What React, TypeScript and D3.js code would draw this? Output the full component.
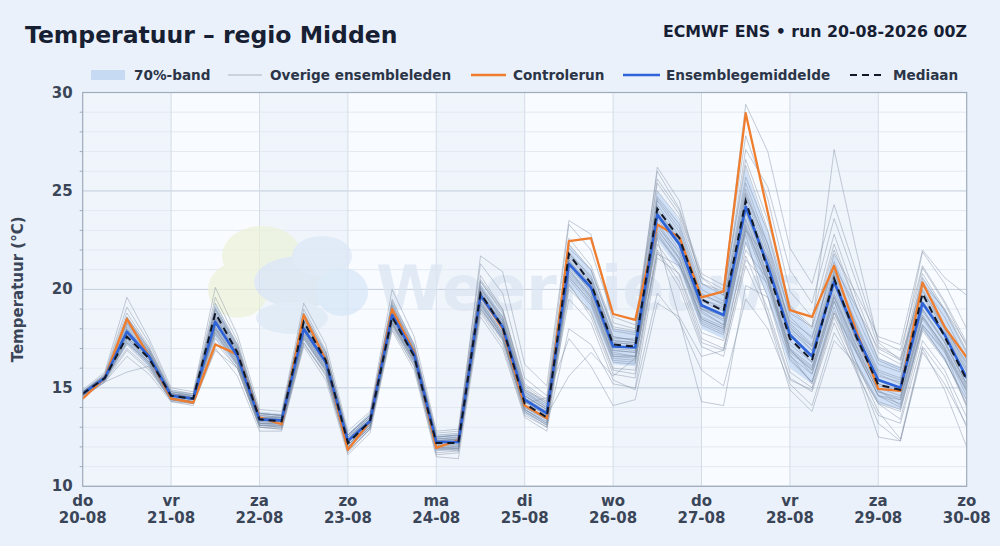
import React, { useEffect, useRef } from "react";
import * as d3 from "d3";

// 6-hourly steps, 41 points from do 20-08 00Z to zo 30-08 00Z
const dayNames = ["do", "vr", "za", "zo", "ma", "di", "wo", "do", "vr", "za", "zo"];
const dayDates = ["20-08", "21-08", "22-08", "23-08", "24-08", "25-08", "26-08", "27-08", "28-08", "29-08", "30-08"];
const yTicks = [10, 15, 20, 25, 30];

const meanT = [14.7, 15.5, 17.85, 16.6, 14.6, 14.45, 18.35, 16.6, 13.4, 13.35, 18.0, 16.3, 12.3, 13.3, 18.7, 16.7, 12.25, 12.25, 19.7, 18.1, 14.4, 13.7, 21.3, 20.1, 17.1, 17.05, 23.8, 22.3, 19.2, 18.7, 24.2, 21.2, 17.7, 16.6, 20.4, 17.7, 15.4, 15.0, 19.3, 17.7, 15.5];
const medianT = [14.7, 15.5, 17.6, 16.5, 14.6, 14.45, 18.8, 16.8, 13.4, 13.3, 18.35, 16.4, 12.2, 13.3, 18.6, 16.6, 12.2, 12.2, 19.8, 18.1, 14.2, 13.5, 21.8, 20.3, 17.2, 17.1, 24.1, 22.6, 19.5, 18.9, 24.5, 21.0, 17.5, 16.4, 20.55, 17.6, 15.15, 14.9, 19.8, 17.6, 15.4];
const controlT = [14.45, 15.5, 18.5, 16.6, 14.45, 14.25, 17.2, 16.7, 13.5, 13.15, 18.7, 16.4, 11.85, 13.3, 19.0, 16.8, 11.95, 12.35, 19.7, 18.0, 14.1, 13.45, 22.45, 22.6, 18.75, 18.45, 23.3, 22.65, 19.6, 19.9, 28.95, 23.9, 18.95, 18.6, 21.2, 17.9, 14.95, 14.85, 20.35, 18.1, 16.55];
const bandLo = [14.5, 15.3, 17.2, 16.1, 14.3, 14.2, 17.5, 16.1, 13.1, 13.0, 17.4, 15.8, 11.9, 12.9, 18.2, 16.2, 11.8, 11.9, 19.0, 17.4, 13.7, 13.1, 20.2, 18.9, 16.2, 16.1, 22.5, 21.0, 18.0, 17.5, 22.3, 19.6, 16.0, 15.2, 19.0, 16.2, 14.2, 13.9, 18.0, 16.4, 14.3];
const bandHi = [14.9, 15.7, 18.6, 17.0, 14.9, 14.7, 19.3, 17.2, 13.8, 13.7, 18.7, 16.8, 12.7, 13.7, 19.3, 17.2, 12.6, 12.7, 20.3, 18.7, 14.9, 14.2, 22.3, 21.0, 18.0, 17.9, 25.0, 23.5, 20.3, 19.8, 26.2, 22.8, 19.2, 17.9, 21.8, 19.1, 16.5, 16.1, 20.6, 19.0, 16.8];

const members = [
  [14.8, 15.6, 18.4, 16.9, 14.7, 14.5, 18.9, 17.0, 13.6, 13.5, 18.4, 16.5, 12.5, 13.5, 19.0, 16.9, 12.4, 12.5, 20.1, 18.5, 14.8, 14.1, 21.9, 20.6, 17.6, 17.4, 24.5, 22.9, 19.7, 19.3, 25.1, 22.0, 18.3, 17.2, 21.0, 18.3, 15.9, 15.5, 19.9, 18.2, 16.0],
  [14.6, 15.4, 17.3, 16.3, 14.4, 14.3, 17.8, 16.2, 13.1, 13.1, 17.5, 15.9, 12.0, 13.0, 18.2, 16.3, 11.9, 11.9, 19.1, 17.5, 13.9, 13.2, 20.5, 19.2, 16.3, 16.2, 22.7, 21.3, 18.3, 17.8, 23.0, 20.1, 16.6, 15.7, 19.4, 16.8, 14.6, 14.2, 18.5, 16.9, 14.6],
  [14.7, 15.5, 18.1, 16.7, 14.6, 14.4, 18.5, 16.8, 13.4, 13.3, 18.2, 16.4, 12.3, 13.4, 18.9, 16.8, 12.3, 12.4, 20.0, 18.6, 14.9, 14.3, 22.6, 21.2, 18.1, 17.9, 25.0, 23.6, 20.3, 19.9, 26.3, 23.0, 19.1, 18.0, 22.0, 19.2, 16.5, 16.0, 20.6, 18.9, 16.8],
  [14.6, 15.5, 17.6, 16.4, 14.5, 14.4, 18.1, 16.4, 13.2, 13.2, 17.7, 16.0, 12.1, 13.1, 18.4, 16.5, 12.0, 12.0, 19.3, 17.6, 13.8, 13.1, 20.2, 18.8, 15.9, 15.7, 22.3, 20.7, 17.5, 17.0, 22.4, 19.6, 15.8, 15.0, 18.8, 16.3, 14.3, 13.9, 18.0, 16.5, 14.2],
  [14.8, 15.7, 19.1, 17.3, 14.9, 14.7, 19.6, 17.4, 13.7, 13.6, 19.0, 16.9, 12.6, 13.6, 19.5, 17.2, 12.6, 12.7, 20.7, 19.0, 15.0, 14.2, 21.5, 19.8, 16.8, 16.6, 23.4, 21.8, 18.8, 18.2, 23.6, 20.7, 17.2, 16.3, 20.9, 18.1, 15.6, 15.3, 19.0, 17.3, 15.2],
  [14.7, 15.4, 17.0, 16.0, 14.4, 14.2, 17.3, 16.0, 13.0, 12.9, 17.3, 15.7, 11.8, 12.9, 18.0, 16.1, 11.6, 11.7, 18.8, 17.2, 13.6, 13.0, 18.0, 17.2, 15.2, 15.0, 21.6, 20.8, 17.8, 17.4, 22.0, 20.5, 17.0, 16.1, 19.8, 17.2, 15.0, 14.6, 18.7, 17.0, 14.8],
  [14.9, 15.8, 19.6, 17.5, 15.0, 14.8, 20.1, 17.7, 13.9, 13.8, 19.3, 17.2, 12.8, 13.8, 20.0, 17.6, 12.8, 12.9, 21.3, 19.8, 15.5, 14.6, 23.3, 22.0, 18.6, 18.2, 26.0, 24.1, 20.8, 20.2, 27.8, 24.6, 19.9, 18.6, 22.8, 19.6, 16.8, 16.2, 21.1, 19.3, 17.1],
  [14.6, 15.3, 16.6, 15.7, 14.3, 14.1, 17.0, 15.6, 12.8, 12.8, 17.1, 15.4, 11.6, 12.7, 17.9, 15.9, 11.5, 11.4, 18.6, 17.0, 13.5, 12.8, 20.0, 18.9, 16.0, 15.9, 22.0, 20.4, 17.3, 16.9, 21.7, 19.0, 15.5, 14.8, 18.3, 15.8, 13.6, 13.2, 17.4, 15.9, 13.5],
  [14.7, 15.5, 17.9, 16.6, 14.6, 14.4, 18.4, 16.7, 13.4, 13.3, 18.0, 16.3, 12.3, 13.3, 18.8, 16.7, 12.3, 12.2, 19.6, 18.1, 14.3, 13.8, 21.0, 19.7, 16.9, 16.8, 23.2, 21.9, 19.0, 18.4, 24.8, 22.3, 18.8, 18.1, 27.1, 22.0, 17.3, 16.4, 20.0, 18.0, 16.3],
  [14.6, 15.5, 17.5, 16.3, 14.5, 14.3, 18.0, 16.3, 13.2, 13.2, 17.8, 16.1, 12.1, 13.2, 18.6, 16.5, 12.1, 12.0, 19.4, 17.8, 14.0, 13.4, 19.5, 18.3, 15.4, 14.9, 19.8, 18.4, 15.9, 15.1, 19.5, 18.0, 15.2, 14.1, 17.8, 16.0, 13.2, 12.3, 17.0, 14.9, 12.0],
  [14.8, 15.6, 18.3, 16.8, 14.7, 14.6, 18.7, 16.9, 13.5, 13.5, 18.5, 16.6, 12.4, 13.5, 19.2, 17.0, 12.5, 12.6, 21.7, 20.9, 16.2, 15.1, 23.5, 22.8, 18.3, 18.0, 25.4, 23.8, 20.6, 19.7, 27.1, 25.2, 21.0, 19.3, 23.6, 20.4, 17.1, 16.5, 21.9, 20.3, 18.0],
  [14.7, 15.6, 17.7, 16.5, 14.7, 14.5, 18.2, 16.6, 13.5, 13.4, 17.9, 16.2, 12.4, 13.4, 18.5, 16.6, 12.3, 12.3, 19.8, 18.3, 14.6, 13.9, 21.1, 20.0, 17.3, 17.2, 24.1, 22.4, 19.0, 18.5, 24.7, 21.5, 17.9, 16.9, 20.3, 17.4, 15.1, 14.8, 19.4, 17.9, 15.8],
  [14.6, 15.4, 17.4, 16.2, 14.5, 14.3, 17.9, 16.2, 13.1, 13.0, 17.6, 15.9, 11.9, 13.0, 18.3, 16.4, 11.9, 11.8, 19.2, 17.6, 14.2, 14.5, 17.5, 16.1, 14.1, 14.4, 19.3, 18.6, 16.6, 16.9, 21.5, 20.3, 16.7, 15.2, 18.9, 16.9, 14.9, 14.1, 18.2, 16.9, 14.0],
  [14.8, 15.5, 18.6, 17.0, 14.8, 14.6, 19.1, 17.1, 13.7, 13.6, 18.7, 16.7, 12.6, 13.6, 19.3, 17.1, 12.5, 12.6, 20.4, 18.8, 14.9, 14.2, 21.8, 20.5, 17.5, 17.5, 24.7, 23.3, 20.0, 19.4, 25.7, 22.9, 18.6, 17.5, 21.4, 18.7, 16.2, 15.8, 20.2, 18.6, 16.4],
  [14.5, 15.3, 16.9, 15.9, 14.4, 14.2, 17.5, 16.0, 13.0, 13.0, 17.3, 15.6, 11.8, 12.9, 18.1, 16.1, 11.8, 11.9, 18.9, 17.4, 13.7, 13.0, 20.9, 19.6, 16.6, 16.6, 23.1, 21.5, 18.5, 18.0, 23.3, 20.4, 16.8, 15.9, 19.6, 16.9, 14.6, 14.4, 18.6, 17.0, 14.9],
  [14.7, 15.5, 18.0, 16.6, 14.6, 14.5, 18.6, 16.7, 13.4, 13.4, 18.1, 16.4, 12.3, 13.3, 18.8, 16.8, 12.2, 12.3, 19.9, 18.2, 14.5, 13.8, 21.5, 20.2, 17.0, 16.9, 23.6, 22.0, 18.9, 18.2, 23.9, 20.7, 17.0, 15.7, 19.4, 16.3, 13.8, 12.4, 17.1, 15.6, 13.0],
  [14.8, 15.7, 18.8, 17.1, 14.8, 14.7, 19.3, 17.2, 13.7, 13.6, 18.8, 16.8, 12.6, 13.7, 19.4, 17.2, 12.7, 12.8, 20.5, 19.0, 15.2, 14.4, 22.3, 21.0, 18.0, 17.8, 25.6, 24.0, 20.6, 20.0, 29.4, 27.0, 22.1, 20.3, 24.3, 20.9, 17.4, 16.9, 21.2, 19.4, 17.3],
  [14.6, 15.4, 17.2, 16.1, 14.4, 14.3, 17.7, 16.1, 13.1, 13.0, 17.5, 15.8, 12.0, 13.0, 18.3, 16.3, 11.9, 12.0, 19.0, 17.5, 13.9, 13.3, 20.6, 19.4, 16.5, 16.4, 22.9, 21.3, 18.5, 18.0, 23.5, 20.6, 16.9, 15.9, 19.7, 17.1, 14.8, 14.5, 18.9, 17.3, 15.1],
  [14.7, 15.5, 17.7, 16.5, 14.6, 14.4, 18.1, 16.5, 13.3, 13.2, 17.9, 16.2, 12.2, 13.2, 18.6, 16.6, 12.1, 12.1, 19.5, 18.0, 14.3, 13.6, 15.6, 16.8, 15.6, 16.5, 21.8, 21.2, 19.0, 18.7, 23.0, 21.6, 18.4, 17.6, 21.2, 19.1, 17.0, 16.4, 20.3, 19.0, 17.2],
  [14.8, 15.6, 18.2, 16.8, 14.7, 14.5, 18.6, 16.8, 13.5, 13.5, 18.3, 16.5, 12.4, 13.4, 18.9, 16.9, 12.4, 12.4, 20.0, 18.4, 14.6, 13.9, 21.7, 20.4, 17.4, 17.3, 24.3, 22.7, 19.5, 19.0, 24.9, 21.8, 18.2, 17.1, 20.7, 17.9, 15.7, 15.2, 19.6, 18.0, 15.9],
  [14.6, 15.4, 17.6, 16.4, 14.5, 14.3, 18.0, 16.3, 13.2, 13.1, 17.7, 16.0, 12.1, 13.1, 18.4, 16.4, 12.0, 11.9, 19.3, 17.7, 13.9, 13.2, 20.3, 18.6, 15.7, 15.5, 21.9, 20.1, 17.1, 16.6, 21.2, 18.7, 15.4, 14.9, 18.6, 16.1, 14.2, 13.8, 18.1, 16.5, 14.1],
  [14.7, 15.6, 18.0, 16.7, 14.7, 14.5, 18.4, 16.7, 13.4, 13.4, 18.1, 16.4, 12.3, 13.4, 18.8, 16.8, 12.3, 12.4, 19.9, 18.3, 14.7, 14.0, 21.4, 20.3, 17.4, 17.3, 23.9, 22.5, 19.5, 19.1, 24.2, 21.6, 18.0, 17.1, 21.8, 19.8, 17.6, 17.2, 22.0, 20.6, 19.7],
  [14.7, 15.5, 17.8, 16.6, 14.6, 14.4, 18.3, 16.6, 13.3, 13.3, 18.0, 16.3, 12.3, 13.3, 18.7, 16.7, 12.2, 12.2, 19.6, 18.0, 14.3, 13.6, 21.2, 19.9, 16.9, 16.8, 22.6, 18.5, 14.3, 14.1, 20.2, 19.6, 16.4, 15.3, 18.8, 16.8, 14.6, 14.0, 18.2, 16.8, 14.9],
  [14.8, 15.6, 18.5, 16.9, 14.7, 14.6, 19.0, 17.0, 13.6, 13.5, 18.6, 16.6, 12.5, 13.5, 19.1, 16.9, 12.4, 12.5, 20.2, 18.6, 14.8, 14.0, 21.8, 20.7, 17.6, 17.4, 24.6, 23.1, 19.8, 19.2, 25.4, 22.3, 18.1, 16.9, 20.8, 18.2, 15.8, 15.4, 19.7, 18.1, 16.2],
  [14.6, 15.4, 17.3, 16.2, 14.4, 14.3, 17.8, 16.2, 13.1, 13.1, 17.6, 15.9, 12.0, 13.1, 18.3, 16.4, 12.0, 11.9, 19.2, 17.7, 14.0, 13.4, 20.8, 19.5, 16.6, 16.5, 23.0, 21.6, 18.6, 18.1, 23.2, 20.5, 16.5, 15.3, 19.1, 15.9, 12.5, 12.3, 16.8, 15.2, 13.1],
  [14.7, 15.5, 18.3, 16.8, 14.7, 14.5, 18.8, 16.9, 13.5, 13.4, 18.4, 16.4, 12.4, 13.4, 18.9, 16.8, 12.3, 12.4, 20.1, 18.4, 14.6, 13.9, 21.6, 20.4, 17.3, 17.2, 24.0, 22.6, 19.4, 18.9, 24.4, 21.3, 17.7, 16.7, 20.2, 17.5, 15.2, 14.9, 19.3, 17.7, 15.6],
  [14.5, 15.3, 15.8, 16.1, 14.3, 14.2, 16.9, 16.0, 13.0, 12.9, 17.2, 15.7, 11.7, 12.9, 18.2, 16.2, 11.7, 11.8, 19.0, 17.5, 13.8, 13.1, 20.7, 19.3, 16.4, 16.3, 22.8, 21.2, 18.2, 17.7, 23.1, 20.4, 16.9, 16.0, 19.6, 17.1, 14.8, 14.4, 18.6, 17.1, 15.0],
  [14.8, 15.6, 18.6, 17.0, 14.8, 14.6, 19.0, 17.2, 13.7, 13.6, 18.8, 16.8, 12.6, 13.6, 19.2, 17.0, 12.5, 12.6, 20.4, 18.9, 15.1, 14.3, 22.1, 21.0, 17.9, 17.7, 26.2, 24.5, 20.3, 19.7, 26.6, 23.5, 19.2, 18.1, 22.3, 19.2, 16.4, 15.9, 20.8, 19.0, 16.9],
  [14.7, 15.5, 17.9, 16.6, 14.6, 14.4, 18.5, 16.6, 13.4, 13.3, 18.1, 16.3, 12.3, 13.3, 18.7, 16.7, 12.2, 12.2, 19.7, 18.1, 14.4, 13.7, 21.3, 20.0, 17.1, 17.0, 23.7, 22.2, 19.1, 18.6, 24.0, 21.0, 17.4, 16.3, 20.0, 17.4, 15.2, 14.8, 19.0, 17.4, 15.2],
  [14.6, 15.4, 17.5, 16.3, 14.5, 14.3, 18.0, 16.4, 13.2, 13.2, 17.8, 16.1, 12.1, 13.2, 18.5, 16.5, 12.1, 12.1, 19.4, 17.8, 14.1, 13.5, 21.0, 19.6, 16.7, 16.6, 23.3, 21.6, 18.4, 17.9, 22.8, 18.6, 14.9, 13.8, 17.4, 16.2, 14.2, 13.4, 17.9, 16.4, 14.4],
];

const FONT = "'DejaVu Sans', Verdana, sans-serif";

const App: React.FC = () => {
  const svgRef = useRef<SVGSVGElement | null>(null);

  useEffect(() => {
    const width = 1000;
    const height = 546;
    const margin = { top: 92.5, right: 33.3, bottom: 59.7, left: 82.7 };

    const svg = d3.select(svgRef.current);
    svg.selectAll("*").remove();

    const steps = meanT.length - 1;
    const x = d3.scaleLinear().domain([0, steps]).range([margin.left, width - margin.right]);
    const y = d3.scaleLinear().domain([10, 30]).range([height - margin.bottom, margin.top]);

    svg.attr("width", width).attr("height", height);

    // page background
    svg.append("rect").attr("width", width).attr("height", height).attr("fill", "#eaf1fa");

    // plot background + day shading
    svg
      .append("rect")
      .attr("x", x(0))
      .attr("y", y(30))
      .attr("width", x(steps) - x(0))
      .attr("height", y(10) - y(30))
      .attr("fill", "#f8fbff");

    svg
      .append("g")
      .selectAll("rect")
      .data(d3.range(0, dayNames.length - 1))
      .join("rect")
      .attr("x", d => x(d * 4))
      .attr("y", y(30))
      .attr("width", x(4) - x(0))
      .attr("height", y(10) - y(30))
      .attr("fill", d => (d % 2 === 0 ? "#f0f5fc" : "#f8fbff"));

    // minor grid every 1 degree
    svg
      .append("g")
      .selectAll("line")
      .data(d3.range(11, 30).filter(v => v % 5 !== 0))
      .join("line")
      .attr("x1", x(0))
      .attr("x2", x(steps))
      .attr("y1", d => y(d))
      .attr("y2", d => y(d))
      .attr("stroke", "#e3e9f1")
      .attr("stroke-width", 1);

    // major grid
    svg
      .append("g")
      .selectAll("line")
      .data(yTicks)
      .join("line")
      .attr("x1", x(0))
      .attr("x2", x(steps))
      .attr("y1", d => y(d))
      .attr("y2", d => y(d))
      .attr("stroke", "#c3cdd9")
      .attr("stroke-width", 1);

    // vertical day lines
    svg
      .append("g")
      .selectAll("line")
      .data(d3.range(1, dayNames.length - 1))
      .join("line")
      .attr("x1", d => x(d * 4))
      .attr("x2", d => x(d * 4))
      .attr("y1", y(30))
      .attr("y2", y(10))
      .attr("stroke", "#d5dce6")
      .attr("stroke-width", 1);

    // watermark
    const wm = svg.append("g").attr("opacity", 0.7);
    wm.append("ellipse").attr("cx", 262).attr("cy", 256).attr("rx", 40).attr("ry", 30).attr("fill", "#edf3d8");
    wm.append("ellipse").attr("cx", 238).attr("cy", 290).attr("rx", 30).attr("ry", 28).attr("fill", "#edf3d8");
    wm.append("ellipse").attr("cx", 300).attr("cy", 282).attr("rx", 46).attr("ry", 26).attr("fill", "#d9e4f2");
    wm.append("ellipse").attr("cx", 322).attr("cy", 256).attr("rx", 30).attr("ry", 20).attr("fill", "#dce8f6");
    wm.append("ellipse").attr("cx", 342).attr("cy", 292).attr("rx", 26).attr("ry", 24).attr("fill", "#d6e6f7");
    wm.append("ellipse").attr("cx", 292).attr("cy", 318).attr("rx", 36).attr("ry", 16).attr("fill", "#dde9f6");
    wm.append("text")
      .attr("x", 376)
      .attr("y", 310)
      .attr("font-family", FONT)
      .attr("font-weight", "bold")
      .attr("font-size", 62)
      .attr("fill", "#dae5f2")
      .text("Weernieuws");

    const clipId = "plotclip";
    svg
      .append("clipPath")
      .attr("id", clipId)
      .append("rect")
      .attr("x", x(0))
      .attr("y", y(30))
      .attr("width", x(steps) - x(0))
      .attr("height", y(10) - y(30));

    const plot = svg.append("g").attr("clip-path", `url(#${clipId})`);

    // 70% band
    const band = d3
      .area<number>()
      .x((_, i) => x(i))
      .y0((_, i) => y(bandLo[i]))
      .y1(d => y(d));

    plot.append("path").datum(bandHi).attr("d", band).attr("fill", "#c6daf4").attr("opacity", 0.8);

    const line = d3
      .line<number>()
      .x((_, i) => x(i))
      .y(d => y(d));

    // ensemble members
    plot
      .append("g")
      .selectAll("path")
      .data(members)
      .join("path")
      .attr("d", line)
      .attr("fill", "none")
      .attr("stroke", "#7f8ca0")
      .attr("stroke-opacity", 0.55)
      .attr("stroke-width", 0.8);

    // control run
    plot
      .append("path")
      .datum(controlT)
      .attr("d", line)
      .attr("fill", "none")
      .attr("stroke", "#ef7d2d")
      .attr("stroke-width", 2.3)
      .attr("stroke-linejoin", "round");

    // ensemble mean
    plot
      .append("path")
      .datum(meanT)
      .attr("d", line)
      .attr("fill", "none")
      .attr("stroke", "#2f64d9")
      .attr("stroke-width", 2.7)
      .attr("stroke-linejoin", "round");

    // median
    plot
      .append("path")
      .datum(medianT)
      .attr("d", line)
      .attr("fill", "none")
      .attr("stroke", "#111827")
      .attr("stroke-width", 2)
      .attr("stroke-dasharray", "7,5");

    // border
    svg
      .append("rect")
      .attr("x", x(0))
      .attr("y", y(30))
      .attr("width", x(steps) - x(0))
      .attr("height", y(10) - y(30))
      .attr("fill", "none")
      .attr("stroke", "#9eabbb")
      .attr("stroke-width", 1.2);

    // minor y ticks
    svg
      .append("g")
      .selectAll("line")
      .data(d3.range(11, 30).filter(v => v % 5 !== 0))
      .join("line")
      .attr("x1", x(0) - 3)
      .attr("x2", x(0))
      .attr("y1", d => y(d))
      .attr("y2", d => y(d))
      .attr("stroke", "#9eabbb");

    // Y labels
    svg
      .append("g")
      .selectAll("text")
      .data(yTicks)
      .join("text")
      .attr("x", x(0) - 10)
      .attr("y", d => y(d) + 5)
      .attr("text-anchor", "end")
      .attr("font-family", FONT)
      .attr("font-weight", "bold")
      .attr("font-size", 15)
      .attr("fill", "#3a4558")
      .text(d => d);

    svg
      .append("text")
      .attr("transform", `translate(23,${(y(10) + y(30)) / 2}) rotate(-90)`)
      .attr("text-anchor", "middle")
      .attr("font-family", FONT)
      .attr("font-weight", "bold")
      .attr("font-size", 15)
      .attr("fill", "#3a4558")
      .text("Temperatuur (°C)");

    // X labels
    const xl = svg
      .append("g")
      .selectAll("text")
      .data(dayNames.map((d, i) => ({ d, date: dayDates[i], i })))
      .join("text")
      .attr("text-anchor", "middle")
      .attr("font-family", FONT)
      .attr("font-weight", "bold")
      .attr("font-size", 15)
      .attr("fill", "#3a4558");
    xl.append("tspan").attr("x", d => x(d.i * 4)).attr("y", 506).text(d => d.d);
    xl.append("tspan").attr("x", d => x(d.i * 4)).attr("y", 523).text(d => d.date);

    // Title
    svg
      .append("text")
      .attr("x", 25)
      .attr("y", 43)
      .attr("font-family", FONT)
      .attr("font-weight", "bold")
      .attr("font-size", 23.5)
      .attr("fill", "#172033")
      .text("Temperatuur – regio Midden");

    svg
      .append("text")
      .attr("x", 967)
      .attr("y", 37)
      .attr("text-anchor", "end")
      .attr("font-family", FONT)
      .attr("font-weight", "bold")
      .attr("font-size", 15.8)
      .attr("fill", "#172033")
      .text("ECMWF ENS • run 20-08-2026 00Z");

    // Legend
    const legend = svg.append("g").attr("font-family", FONT).attr("font-weight", "bold").attr("font-size", 13.6).attr("fill", "#2b3547");
    const ly = 75;
    legend.append("rect").attr("x", 91).attr("y", ly - 5).attr("width", 34).attr("height", 10).attr("fill", "#c6daf4");
    legend.append("text").attr("x", 134).attr("y", ly + 5).text("70%-band");
    legend.append("line").attr("x1", 228).attr("x2", 262).attr("y1", ly).attr("y2", ly).attr("stroke", "#aab3c0").attr("stroke-width", 1);
    legend.append("text").attr("x", 270).attr("y", ly + 5).text("Overige ensembleleden");
    legend.append("line").attr("x1", 471).attr("x2", 506).attr("y1", ly).attr("y2", ly).attr("stroke", "#ef7d2d").attr("stroke-width", 2.5);
    legend.append("text").attr("x", 513).attr("y", ly + 5).text("Controlerun");
    legend.append("line").attr("x1", 623).attr("x2", 660).attr("y1", ly).attr("y2", ly).attr("stroke", "#2f64d9").attr("stroke-width", 2.5);
    legend.append("text").attr("x", 666).attr("y", ly + 5).text("Ensemblegemiddelde");
    legend.append("line").attr("x1", 850).attr("x2", 886).attr("y1", ly).attr("y2", ly).attr("stroke", "#111827").attr("stroke-width", 2).attr("stroke-dasharray", "7,5");
    legend.append("text").attr("x", 893).attr("y", ly + 5).text("Mediaan");
  }, []);

  return <svg ref={svgRef} style={{ position: "absolute", left: 0, top: 0 }}></svg>;
};

export default App;
